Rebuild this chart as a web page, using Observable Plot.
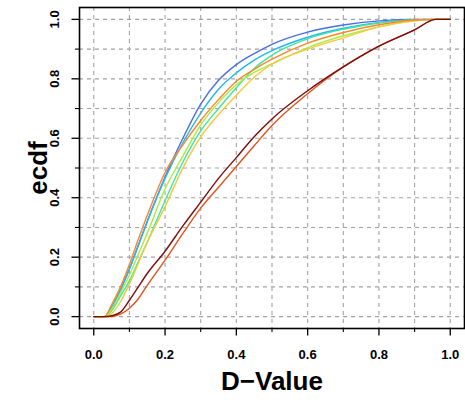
<!DOCTYPE html>
<html><head><meta charset="utf-8">
<script src="https://cdn.jsdelivr.net/npm/d3@7"></script>
<script src="https://cdn.jsdelivr.net/npm/@observablehq/plot@0.6"></script>
<style>body{margin:0;background:#fff} svg{display:block}</style>
</head><body><div id="chart"></div>
<script>
// D-Value sample positions shared by all curves
const xGrid = [0, 0.03, 0.05, 0.075, 0.1, 0.125, 0.15, 0.2, 0.25, 0.3, 0.35, 0.4, 0.45, 0.5, 0.6, 0.7, 0.8, 0.9, 0.96, 1.0];

// ecdf values per series
const sBlue      = [0, 0, 0.03, 0.09, 0.16, 0.24, 0.32, 0.47, 0.6, 0.715, 0.795, 0.848, 0.885, 0.916, 0.957, 0.981, 0.995, 1, 1, 1];
const sCyan      = [0, 0, 0.03, 0.09, 0.16, 0.24, 0.32, 0.465, 0.585, 0.685, 0.765, 0.82, 0.863, 0.895, 0.94, 0.97, 0.99, 0.999, 1, 1];
const sSpring    = [0, 0, 0.02, 0.07, 0.12, 0.185, 0.25, 0.39, 0.52, 0.625, 0.7, 0.77, 0.835, 0.88, 0.935, 0.967, 0.988, 0.998, 1, 1];
const sLime      = [0, 0, 0.025, 0.08, 0.14, 0.21, 0.28, 0.43, 0.54, 0.645, 0.72, 0.78, 0.822, 0.85, 0.905, 0.945, 0.975, 0.995, 1, 1];
const sGold      = [0, 0, 0.01, 0.05, 0.11, 0.18, 0.25, 0.37, 0.5, 0.605, 0.68, 0.745, 0.805, 0.85, 0.9, 0.938, 0.975, 0.995, 1, 1];
const sOrange    = [0, 0, 0.04, 0.1, 0.175, 0.26, 0.34, 0.485, 0.578, 0.66, 0.73, 0.792, 0.832, 0.866, 0.92, 0.956, 0.982, 0.998, 1, 1];
const sOrangeRed = [0, 0, 0, 0.008, 0.028, 0.06, 0.105, 0.19, 0.28, 0.365, 0.435, 0.505, 0.575, 0.643, 0.75, 0.84, 0.91, 0.965, 1, 1];
const sDarkRed   = [0, 0, 0.003, 0.015, 0.055, 0.1, 0.145, 0.22, 0.305, 0.385, 0.465, 0.535, 0.605, 0.665, 0.76, 0.84, 0.91, 0.965, 1, 1];

const seriesNames  = ["blue", "cyan", "spring", "lime", "gold", "orange", "orangered", "darkred"];
const seriesValues = [sBlue, sCyan, sSpring, sLime, sGold, sOrange, sOrangeRed, sDarkRed];
const seriesColors = ["#4a6fe3", "#25b6f0", "#3de6a2", "#a8ee3e", "#f4c83a", "#ff8528", "#e4521c", "#7d0c0c"];

const majorTicks = [0, 0.2, 0.4, 0.6, 0.8, 1.0];
const minorTicks = [0.1, 0.3, 0.5, 0.7, 0.9];
const gridTicks  = [0, 0.1, 0.2, 0.3, 0.4, 0.5, 0.6, 0.7, 0.8, 0.9, 1.0];
const xTitle = "D\u2212Value";
const yTitle = "ecdf";

const rows = seriesNames.flatMap((name, i) =>
  xGrid.map((x, j) => ({x, y: seriesValues[i][j], name})));

const fmt = d => d.toFixed(1);
const gridStyle = {stroke: "#a3a3a3", strokeOpacity: 1, strokeDasharray: "4,4", strokeWidth: 1.1};

const chart = Plot.plot({
  width: 465, height: 402,
  marginLeft: 79, marginRight: 1, marginTop: 7, marginBottom: 74,
  style: {fontFamily: "'Liberation Sans', Arial, sans-serif", background: "#fff", color: "#000"},
  x: {domain: [-0.04, 1.04], label: null},
  y: {domain: [-0.04, 1.04], label: null},
  color: {domain: seriesNames, range: seriesColors},
  marks: [
    Plot.gridX(gridTicks, gridStyle),
    Plot.gridY(gridTicks, gridStyle),
    Plot.line(rows, {x: "x", y: "y", z: "name", stroke: "name", strokeWidth: 1.4, curve: "monotone-x"}),
    Plot.frame({stroke: "#000", strokeWidth: 1.6}),
    Plot.axisX(majorTicks, {tickSize: 7.5, tickPadding: 13.5, tickFormat: fmt, fontSize: 13, fontWeight: "bold", label: null, strokeWidth: 1.3}),
    Plot.axisX(minorTicks, {tickSize: 4, tickFormat: () => "", label: null, strokeWidth: 1.1}),
    Plot.axisY(majorTicks, {tickSize: 7.5, tickFormat: () => "", label: null, strokeWidth: 1.3}),
    Plot.axisY(minorTicks, {tickSize: 4, tickFormat: () => "", label: null, strokeWidth: 1.1}),
    Plot.text(majorTicks, {y: d => d, text: fmt, frameAnchor: "left", dx: -20.5, rotate: -90,
      textAnchor: "middle", lineAnchor: "bottom", fontSize: 13, fontWeight: "bold"}),
    Plot.text([xTitle], {text: d => d, frameAnchor: "bottom", dy: 53, fontSize: 26, fontWeight: "bold", lineAnchor: "middle", textAnchor: "middle"}),
    Plot.text([yTitle], {text: d => d, frameAnchor: "left", dx: -41, rotate: -90, fontSize: 26, fontWeight: "bold", lineAnchor: "middle", textAnchor: "middle"})
  ]
});
document.getElementById("chart").appendChild(chart);
</script>
</body></html>
